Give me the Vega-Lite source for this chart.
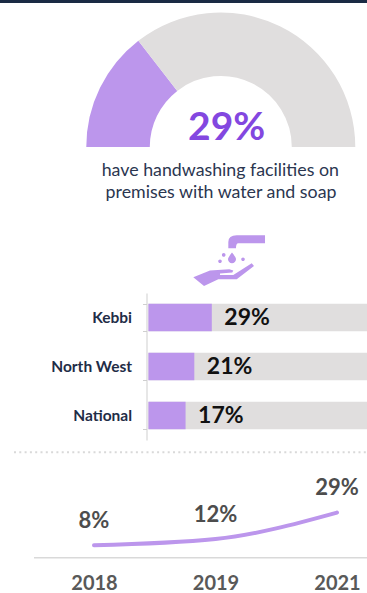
{
"$schema":"https://vega.github.io/schema/vega-lite/v6.json",
"padding":0,
"autosize":{"type":"pad"},
"background":"white",
"bounds":"flush",
"spacing":0,
"config":{"view":{"stroke":null},"font":"Lato"},
"datasets":{
"gauge":[{"part":"have facilities","share":29,"seq":1},{"part":"rest","share":71,"seq":2}],
"regions":[{"region":"Kebbi","share":29},{"region":"North West","share":21},{"region":"National","share":17}],
"trend":[{"year":"2018","share":8},{"year":"2019","share":12},{"year":"2021","share":29}]
},
"vconcat":[
{
"width":367,"height":293,
"layer":[
{"mark":{"type":"rect","color":"#1a2a44"},"data":{"values":[{"k":"top"}]},
 "encoding":{"x":{"datum":0,"type":"quantitative","scale":{"domain":[0,1]},"axis":null},"x2":{"datum":1},
 "y":{"datum":0,"type":"quantitative","scale":{"domain":[1,0]},"axis":null},"y2":{"datum":0.0102}}},
{"data":{"name":"gauge"},
 "transform":[{"stack":"share","sort":[{"field":"seq"}],"as":["s0","s1"]}],
 "mark":{"type":"arc","outerRadius":134.5,"innerRadius":71},
 "encoding":{
  "x":{"datum":0.6016,"type":"quantitative"},
  "y":{"datum":0.5017,"type":"quantitative"},
  "theta":{"field":"s0","type":"quantitative","scale":{"domain":[0,100],"range":[-1.5708,1.5708]}},
  "theta2":{"field":"s1"},
  "color":{"field":"part","type":"nominal","scale":{"domain":["have facilities","rest"],"range":["#bc96ec","#e0dede"]},"legend":null}}},
{"data":{"values":[{"t":"29%"}]},"mark":{"type":"text","font":"Lato","fontWeight":"bold","fontSize":39,"color":"#8347e0","align":"center","baseline":"middle"},
 "encoding":{"text":{"field":"t"},"x":{"datum":0.6177,"type":"quantitative"},"y":{"datum":0.4365,"type":"quantitative"}}},
{"data":{"values":[{"t":"have handwashing facilities on"}]},"mark":{"type":"text","font":"Lato","fontSize":17.8,"color":"#2b3650","align":"center","baseline":"middle"},
 "encoding":{"text":{"field":"t"},"x":{"datum":0.6003,"type":"quantitative"},"y":{"datum":0.585,"type":"quantitative"}}},
{"data":{"values":[{"t":"premises with water and soap"}]},"mark":{"type":"text","font":"Lato","fontSize":17.8,"color":"#2b3650","align":"center","baseline":"middle"},
 "encoding":{"text":{"field":"t"},"x":{"datum":0.6022,"type":"quantitative"},"y":{"datum":0.66,"type":"quantitative"}}},
{"data":{"values":[{"k":"icon"}]},"mark":{"type":"point","filled":true,"opacity":1,"color":"#bc96ec","size":5184,
 "shape":"M1 -.686L1 -.464L.258 -.464Q.194 -.464 .194 -.325L-.019 -.325L-.019 -.5Q-.019 -.686 .214 -.686ZM.083 -.203Q.2 -.06 .194 -.019A.111 .111 0 1 1 -.028 -.019Q-.03 -.06 .083 -.203ZM-.197 -.139a.05 .05 0 1 0 .1 0a.05 .05 0 1 0 -.1 0ZM-.3 .036a.05 .05 0 1 0 .1 0a.05 .05 0 1 0 -.1 0ZM.339 -.019a.05 .05 0 1 0 .1 0a.05 .05 0 1 0 -.1 0ZM-.992 .481L-.528 .297L.008 .258L.119 .297L.092 .353L-.25 .381L-.25 .417L.119 .417L.631 .092L.694 .167L.214 .536L-.297 .536L-.694 .722Z"},
 "encoding":{"x":{"datum":0.624,"type":"quantitative"},"y":{"datum":0.887,"type":"quantitative"}}}
]
},
{
"width":367,"height":147,
"data":{"name":"regions"},
"transform":[{"calculate":"datum.share + '%'","as":"label"}],
"encoding":{
 "y":{"field":"region","type":"nominal","sort":["Kebbi","North West","National"],
  "scale":{"paddingInner":0.44,"paddingOuter":0.22},
  "axis":{"title":null,"offset":-146.5,"domain":true,"domainColor":"#cfcfcf","domainWidth":1,"ticks":true,"tickBand":"extent","tickColor":"#cfcfcf","tickWidth":1,"tickSize":4,"labelPadding":11,"labelFont":"Lato","labelFontWeight":"bold","labelFontSize":15.5,"labelColor":"#1f2d47","labelAlign":"right","grid":false}}
},
"layer":[
{"mark":{"type":"bar","color":"#e0dede"},
 "encoding":{"x":{"datum":0,"type":"quantitative","scale":{"domain":[-67.9,100],"nice":false,"zero":false},"axis":null},"x2":{"datum":100}}},
{"mark":{"type":"bar","color":"#bc96ec"},
 "encoding":{"x":{"field":"share","type":"quantitative"},"x2":{"datum":0}}},
{"mark":{"type":"text","font":"Lato","fontWeight":"bold","fontSize":23,"color":"#111111","align":"left","baseline":"middle","dx":12.5},
 "encoding":{"x":{"field":"share","type":"quantitative"},"text":{"field":"label"}}}
]
},
{
"width":367,"height":117.7,
"resolve":{"scale":{"x":"independent"}},
"layer":[
{"data":{"values":[{"k":"separator"}]},"mark":{"type":"rule","color":"#d9d9d9","strokeWidth":2,"strokeDash":[2,3.3]},
 "encoding":{"x":{"datum":0,"type":"quantitative","scale":{"domain":[0,1],"range":[14,367]},"axis":null},"x2":{"datum":1},
 "y":{"datum":67.7,"type":"quantitative","scale":{"domain":[0,75.6],"nice":false},"axis":null}}},
{"data":{"values":[{"k":"baseline"}]},"mark":{"type":"rule","color":"#d9d9d9","strokeWidth":1.5},
 "encoding":{"x":{"datum":0,"type":"quantitative","scale":{"domain":[0,1],"range":[34,367]},"axis":null},"x2":{"datum":1},
 "y":{"datum":0,"type":"quantitative"}}},
{"data":{"name":"trend"},
 "transform":[{"calculate":"datum.share + '%'","as":"label"}],
 "encoding":{
  "x":{"field":"year","type":"ordinal","scale":{"type":"point","range":[94,337],"padding":0},
   "axis":{"title":null,"domain":false,"ticks":false,"labelAngle":0,"labelFont":"Lato","labelFontWeight":"bold","labelFontSize":20,"labelColor":"#595959","labelPadding":16,"grid":false}},
  "y":{"field":"share","type":"quantitative"}},
 "layer":[
  {"mark":{"type":"line","color":"#bc96ec","strokeWidth":4,"strokeCap":"round","interpolate":"monotone"}},
  {"mark":{"type":"text","font":"Lato","fontWeight":"bold","fontSize":22,"color":"#4d4d4d","align":"center","baseline":"middle","dy":-24.5},
   "encoding":{"text":{"field":"label"}}}
 ]}
]
}
]
}
